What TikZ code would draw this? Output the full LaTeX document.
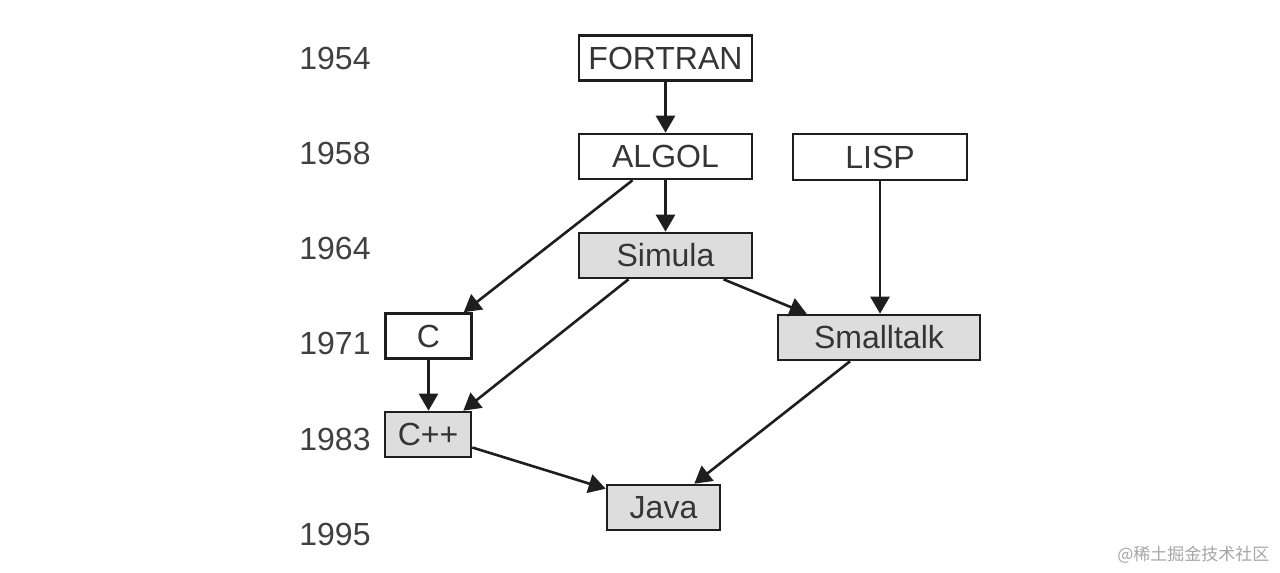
\documentclass[tikz,border=0pt]{standalone}
\usepackage{fontspec}
\setmainfont{Liberation Sans}
\newfontfamily\cjk{Noto Sans CJK SC}
\usetikzlibrary{arrows.meta,calc}
\definecolor{ink}{HTML}{1E1E1E}
\definecolor{boxgray}{HTML}{DDDDDD}
\begin{document}
\begin{tikzpicture}[x=1pt,y=-1pt,
  lang/.style={draw=ink,line width=2.6pt,fill=white,inner sep=0pt,
    font=\fontsize{32}{34}\selectfont,text=ink!90,anchor=center},
  oo/.style={lang,fill=boxgray},
  yearlbl/.style={font=\fontsize{32}{34}\selectfont,text=ink!85,anchor=center},
  link/.style={draw=ink,line width=2.6pt,-{Triangle[length=17pt,width=19pt]}}]
\useasboundingbox[fill=white] (0,0) rectangle (1280,573);
% years
\node[yearlbl] (y54) at (335,58) {1954};
\node[yearlbl] (y58) at (335,153) {1958};
\node[yearlbl] (y64) at (335,248) {1964};
\node[yearlbl] (y71) at (335,343) {1971};
\node[yearlbl] (y83) at (335,439) {1983};
\node[yearlbl] (y95) at (335,534) {1995};
% languages
\node[lang,minimum width=173pt,minimum height=45pt] (fortran) at (665.5,58) {FORTRAN};
\node[lang,minimum width=173pt,minimum height=45pt] (algol) at (665.5,156.5) {ALGOL};
\node[lang,minimum width=174pt,minimum height=46pt] (lisp) at (880,157) {LISP};
\node[oo,minimum width=173pt,minimum height=45pt] (simula) at (665.5,255.5) {Simula};
\node[lang,minimum width=86pt,minimum height=45pt] (c) at (428.5,336) {C};
\node[oo,minimum width=202pt,minimum height=45pt] (smalltalk) at (879,337.5) {Smalltalk};
\node[oo,minimum width=86pt,minimum height=45pt] (cpp) at (428,434.5) {C++};
\node[oo,minimum width=113pt,minimum height=45pt] (java) at (663.5,507.5) {Java};
% connectors
\draw[link] (fortran.south) -- (algol.north);
\draw[link] (algol.south) -- (simula.north);
\draw[link] ([xshift=-33pt]algol.south) -- ([xshift=-9pt]c.north east);
\draw[link] (lisp.south) -- (lisp.south |- smalltalk.north);
\draw[link] ([xshift=-37pt]simula.south) -- ([xshift=-9pt]cpp.north east);
\draw[link] ([xshift=58pt]simula.south) -- ([xshift=30pt]smalltalk.north west);
\draw[link] (c.south) -- (c.south |- cpp.north);
\draw[link] ([yshift=-13pt]cpp.east) -- ([yshift=-5pt]java.north west);
\draw[link] ([xshift=-29pt]smalltalk.south) -- ([xshift=-27pt]java.north east);
% watermark
\node[font=\cjk\fontsize{17}{19}\selectfont,text=black!35,anchor=east] (wm) at (1273,555) {@稀土掘金技术社区};
\end{tikzpicture}
\end{document}
